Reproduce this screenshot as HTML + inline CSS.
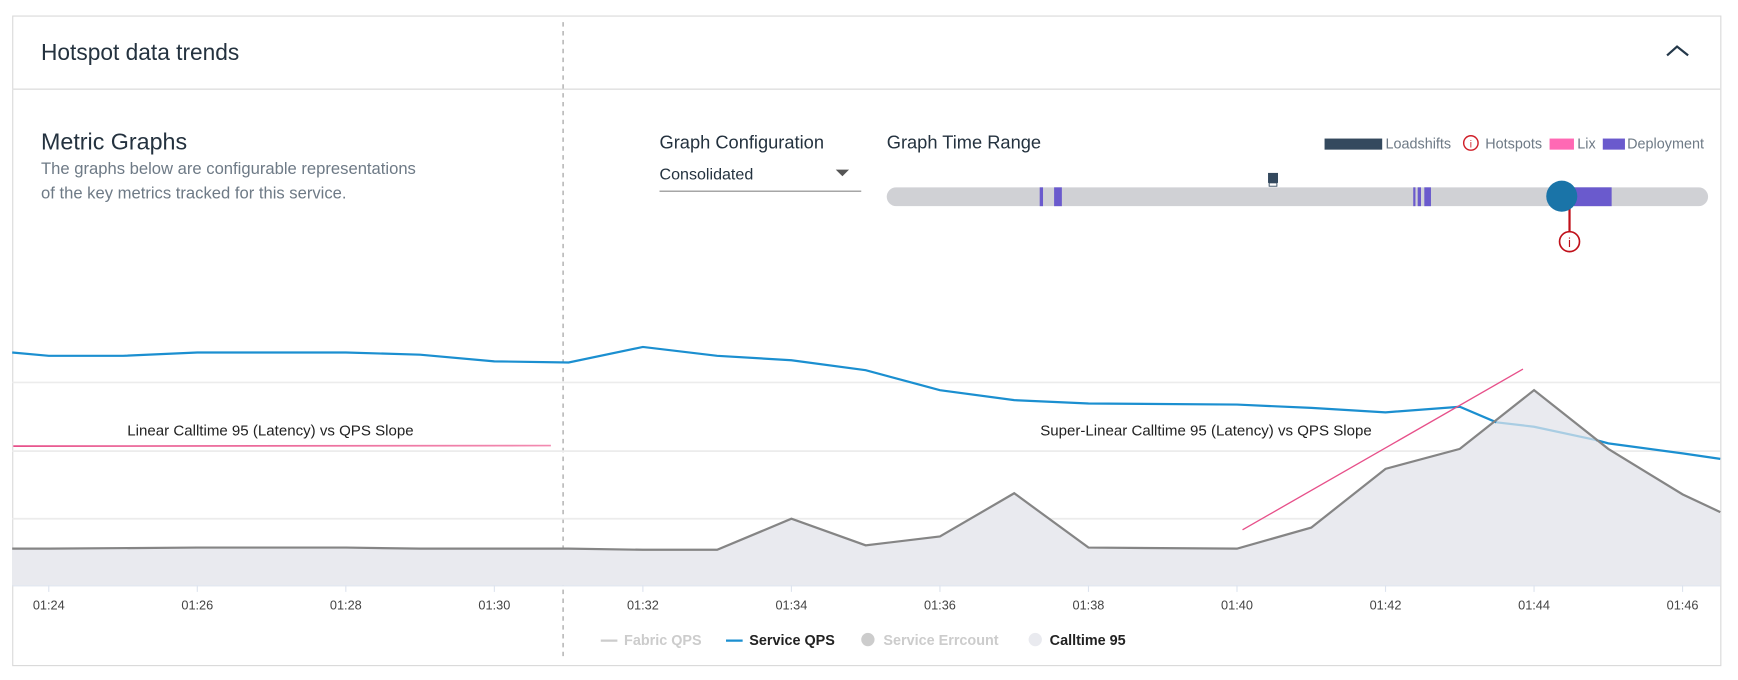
<!DOCTYPE html>
<html><head><meta charset="utf-8"><style>
html,body{margin:0;padding:0;background:#fff;width:1738px;height:680px;overflow:hidden}
#w{width:1568px;height:614px;transform:scale(1.10842);transform-origin:0 0;position:relative}
svg text{font-family:"Liberation Sans",sans-serif}
</style></head><body><div id="w">
<svg width="1568" height="614" viewBox="0 0 1568 614" xmlns="http://www.w3.org/2000/svg">
<defs><linearGradient id="pk" x1="0" x2="1"><stop offset="0" stop-color="#e7508a"/><stop offset="1" stop-color="#f28ab0"/></linearGradient></defs>
<rect x="11.5" y="14.5" width="1541" height="586" fill="#fff" stroke="#d9d9d9"/>
<line x1="11" y1="80.5" x2="1552" y2="80.5" stroke="#e3e3e3" stroke-width="1.5"/>
<text x="37" y="54" font-size="20.5" fill="#24323f">Hotspot data trends</text>
<polyline points="1504,50 1513,42 1523,50" fill="none" stroke="#24384a" stroke-width="2"/>
<line x1="508" y1="20" x2="508" y2="596" stroke="#999" stroke-dasharray="4,4"/>
<text x="37" y="135" font-size="21" fill="#24323f">Metric Graphs</text>
<text x="37" y="157" font-size="15" fill="#6e7a86">The graphs below are configurable representations</text>
<text x="37" y="179" font-size="15" fill="#6e7a86">of the key metrics tracked for this service.</text>
<text x="595" y="134" font-size="16.5" fill="#24323f">Graph Configuration</text>
<text x="595" y="162" font-size="14.5" fill="#24323f">Consolidated</text>
<polygon points="754,153 766,153 760,159" fill="#555"/>
<line x1="595" y1="172.5" x2="777" y2="172.5" stroke="#888" stroke-width="1"/>
<text x="800" y="134" font-size="16.5" fill="#24323f">Graph Time Range</text>
<rect x="1195" y="125" width="52" height="10" fill="#34495e"/>
<text x="1250" y="134" font-size="13" fill="#6e7a86">Loadshifts</text>
<circle cx="1327" cy="129" r="6.5" fill="none" stroke="#d0202a" stroke-width="1.3"/>
<text x="1327" y="133" font-size="9" fill="#d0202a" text-anchor="middle">i</text>
<text x="1340" y="134" font-size="13" fill="#6e7a86">Hotspots</text>
<rect x="1398" y="125" width="22" height="10" fill="#ff69b4"/>
<text x="1423" y="134" font-size="13" fill="#6e7a86">Lix</text>
<rect x="1446" y="125" width="20" height="10" fill="#6a5acd"/>
<text x="1468" y="134" font-size="13" fill="#6e7a86">Deployment</text>
<rect x="800" y="169" width="741" height="17" rx="8.5" fill="#d0d1d5"/>
<g fill="#6a5acd"><rect x="938" y="169" width="3" height="17"/><rect x="951" y="169" width="7" height="17"/><rect x="1275" y="169" width="2" height="17"/><rect x="1279" y="169" width="3" height="17"/><rect x="1285" y="169" width="6" height="17"/><rect x="1420" y="169" width="34" height="17"/></g>
<rect x="1144" y="156" width="9" height="9" fill="#34495e"/>
<rect x="1145" y="165" width="7" height="3" fill="#fff" stroke="#34495e" stroke-width="0.8"/>
<line x1="1416" y1="185" x2="1416" y2="209" stroke="#c0101a" stroke-width="2"/>
<circle cx="1409" cy="177" r="14" fill="#1a74a8"/>
<circle cx="1416" cy="218" r="9" fill="#fff" stroke="#c0101a" stroke-width="1.5"/>
<text x="1416" y="223" font-size="12" fill="#c0101a" text-anchor="middle">i</text>
<g stroke="#ececec" stroke-width="1.5"><line x1="11" y1="345" x2="1552" y2="345"/><line x1="11" y1="407" x2="1552" y2="407"/><line x1="11" y1="468" x2="1552" y2="468"/></g>
<polygon fill="#e9eaef" points="11,495 44,495 178,494 312,494 379,495 513,495 580,496 647,496 714,468 781,492 848,484 915,445 982,494 1116,495 1183,476 1250,423 1317,405 1384,352 1451,405 1518,446 1552,462 1552,528 11,528"/>
<polyline fill="none" stroke="#1b8fd0" stroke-width="2" points="11,318 44,321 111,321 178,318 245,318 312,318 379,320 446,326 513,327 580,313 647,321 714,325 781,334 848,352 915,361 982,364 1116,365 1183,368 1250,372 1317,367 1350,381"/>
<polyline fill="none" stroke="#a9cde3" stroke-width="2" points="1350,381 1384,385 1440,397"/>
<polyline fill="none" stroke="#1b8fd0" stroke-width="2" points="1440,397 1451,400 1518,409 1552,414"/>
<polyline fill="none" stroke="#858585" stroke-width="2" points="11,495 44,495 178,494 312,494 379,495 513,495 580,496 647,496 714,468 781,492 848,484 915,445 982,494 1116,495 1183,476 1250,423 1317,405 1384,352 1451,405 1518,446 1552,462"/>
<line x1="11" y1="528.5" x2="1552" y2="528.5" stroke="#dde3ee"/>
<line x1="12" y1="402.5" x2="497" y2="402" stroke="url(#pk)" stroke-width="1.5"/>
<line x1="1121" y1="478" x2="1374" y2="333" stroke="#e7508a" stroke-width="1.2"/>
<text x="244" y="393" font-size="13.6" fill="#222" text-anchor="middle">Linear Calltime 95 (Latency) vs QPS Slope</text>
<text x="1088" y="393" font-size="13.6" fill="#222" text-anchor="middle">Super-Linear Calltime 95 (Latency) vs QPS Slope</text>
<g font-size="11.5" fill="#444" text-anchor="middle" stroke="#dde3ee">
<line x1="44" y1="528" x2="44" y2="534"/><line x1="178" y1="528" x2="178" y2="534"/><line x1="312" y1="528" x2="312" y2="534"/><line x1="446" y1="528" x2="446" y2="534"/><line x1="580" y1="528" x2="580" y2="534"/><line x1="714" y1="528" x2="714" y2="534"/><line x1="848" y1="528" x2="848" y2="534"/><line x1="982" y1="528" x2="982" y2="534"/><line x1="1116" y1="528" x2="1116" y2="534"/><line x1="1250" y1="528" x2="1250" y2="534"/><line x1="1384" y1="528" x2="1384" y2="534"/><line x1="1518" y1="528" x2="1518" y2="534"/>
<g stroke="none"><text x="44" y="550">01:24</text><text x="178" y="550">01:26</text><text x="312" y="550">01:28</text><text x="446" y="550">01:30</text><text x="580" y="550">01:32</text><text x="714" y="550">01:34</text><text x="848" y="550">01:36</text><text x="982" y="550">01:38</text><text x="1116" y="550">01:40</text><text x="1250" y="550">01:42</text><text x="1384" y="550">01:44</text><text x="1518" y="550">01:46</text></g>
</g>
<g font-size="13" font-weight="bold">
<line x1="542" y1="578" x2="557" y2="578" stroke="#ccc" stroke-width="2"/>
<text x="563" y="582" fill="#ccc">Fabric QPS</text>
<line x1="655" y1="578" x2="670" y2="578" stroke="#1b8fd0" stroke-width="2"/>
<text x="676" y="582" fill="#222">Service QPS</text>
<circle cx="783" cy="577" r="6" fill="#ccc"/>
<text x="797" y="582" fill="#ccc">Service Errcount</text>
<circle cx="934" cy="577" r="6" fill="#e9eaef"/>
<text x="947" y="582" fill="#222">Calltime 95</text>
</g>
</svg>
</div></body></html>
